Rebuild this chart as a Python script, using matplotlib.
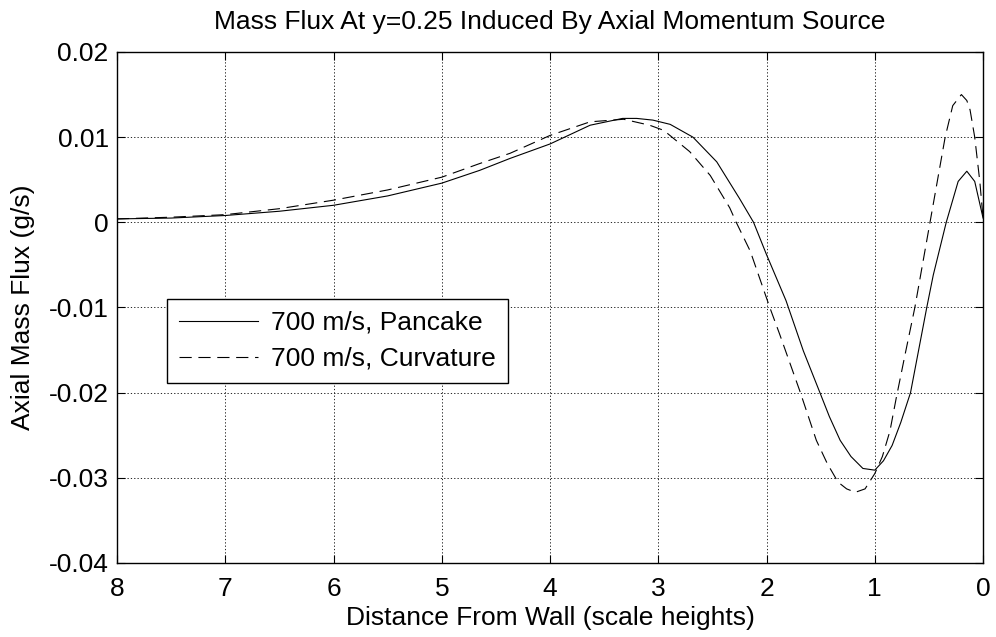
import matplotlib
matplotlib.use('Agg')
import matplotlib.pyplot as plt

# readings (x = scale heights from wall, y = g/s)
x_pancake = [8.0, 7.5, 7.0, 6.5, 6.0, 5.5, 5.0, 4.65, 4.37, 4.0, 3.63, 3.33, 3.2,
             3.05, 2.89, 2.68, 2.46, 2.25, 2.12, 2.0, 1.82, 1.66, 1.51, 1.42,
             1.32, 1.22, 1.11, 1.0, 0.92, 0.84, 0.76, 0.67, 0.52, 0.46, 0.34,
             0.23, 0.15, 0.077, 0.0]
y_pancake = [0.0004, 0.0005, 0.0008, 0.0013, 0.0020, 0.0031, 0.0046, 0.0061,
             0.0075, 0.0092, 0.0114, 0.0122, 0.0122, 0.0120, 0.0115, 0.0100,
             0.0071, 0.0028, 0.0, -0.0038, -0.0092, -0.0151, -0.0199, -0.0228,
             -0.0256, -0.0275, -0.0289, -0.0291, -0.0280, -0.0262, -0.0235,
             -0.0200, -0.0100, -0.0062, 0.0, 0.0048, 0.0060, 0.0048, 0.0005]

x_curv = [8.0, 7.5, 7.0, 6.5, 6.0, 5.5, 5.0, 4.65, 4.37, 4.0, 3.63, 3.32, 3.08,
          2.95, 2.71, 2.52, 2.34, 2.28, 2.15, 1.97, 1.88, 1.69, 1.54, 1.44,
          1.34, 1.26, 1.18, 1.09, 1.0, 0.93, 0.86, 0.80, 0.72, 0.63, 0.49,
          0.35, 0.28, 0.20, 0.15, 0.12, 0.077, 0.03, 0.0]
y_curv = [0.0004, 0.0006, 0.0009, 0.0016, 0.0026, 0.0038, 0.0053, 0.0069,
          0.0081, 0.0102, 0.0118, 0.0121, 0.0114, 0.0108, 0.0083, 0.0055,
          0.0017, 0.0, -0.0034, -0.0100, -0.0131, -0.0199, -0.0256, -0.0283,
          -0.0305, -0.0313, -0.0317, -0.0313, -0.0295, -0.0275, -0.0245,
          -0.0205, -0.0155, -0.0100, 0.0, 0.0100, 0.0137, 0.0150, 0.0143,
          0.0132, 0.0100, 0.0048, 0.0005]

x_ticks = [8, 7, 6, 5, 4, 3, 2, 1, 0]
y_ticks = [-0.04, -0.03, -0.02, -0.01, 0, 0.01, 0.02]
y_ticklabels = ['-0.04', '-0.03', '-0.02', '-0.01', '0', '0.01', '0.02']

plt.rcParams['font.family'] = ['Liberation Sans', 'DejaVu Sans']
FS = 19

fig = plt.figure(figsize=(9.96, 6.37), dpi=100)
ax = fig.add_axes([0.1175, 0.1162, 0.8695, 0.8022])

ax.plot(x_pancake, y_pancake, color='black', lw=0.8, label='700 m/s, Pancake')
ax.plot(x_curv, y_curv, color='black', lw=0.8, dashes=(11, 6),
        label='700 m/s, Curvature')

ax.set_xlim(8, 0)
ax.set_ylim(-0.04, 0.02)
ax.set_xticks(x_ticks)
ax.set_xticklabels([str(t) for t in x_ticks])
ax.set_yticks(y_ticks)
ax.set_yticklabels(y_ticklabels)

ax.grid(True, color='black', linestyle=(0, (1.5, 2.5)), linewidth=0.6)
ax.tick_params(direction='in', length=6, width=0.8, top=True, right=True,
               labelsize=FS)
ax.tick_params(axis='y', pad=6)
ax.tick_params(axis='x', pad=10)
for s in ax.spines.values():
    s.set_linewidth(1.0)

ax.set_title('Mass Flux At y=0.25 Induced By Axial Momentum Source',
             fontsize=FS, pad=16.5)
ax.set_xlabel('Distance From Wall (scale heights)', fontsize=FS, labelpad=4)
ax.set_ylabel('Axial Mass Flux (g/s)', fontsize=FS, labelpad=10)

leg = ax.legend(loc='upper left', bbox_to_anchor=(167 / 996, 1 - 299 / 637),
                bbox_transform=fig.transFigure, fontsize=FS, fancybox=False,
                framealpha=1, edgecolor='black', borderpad=0.45,
                handlelength=3.0, handletextpad=0.5, labelspacing=0.45,
                borderaxespad=0)
leg.get_frame().set_linewidth(1.0)

fig.savefig('out.png', dpi=100)
